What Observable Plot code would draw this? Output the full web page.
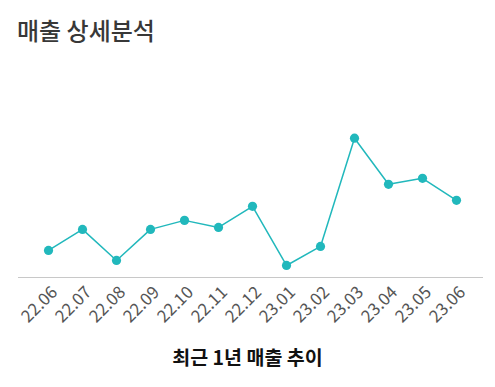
<!DOCTYPE html>
<html><head><meta charset="utf-8">
<script src="https://cdn.jsdelivr.net/npm/d3@7"></script>
<script src="https://cdn.jsdelivr.net/npm/@observablehq/plot@0.6"></script>
<style>
body{margin:0;background:#fff;font-family:"Noto Sans CJK KR","Noto Sans",sans-serif;}
#wrap{width:495px;height:387px;position:relative;}
#title{position:absolute;left:17px;top:13px;font-size:24px;font-weight:500;color:#383838;line-height:34px;}
#chart{position:absolute;left:0;top:60px;}
#caption{position:absolute;left:0;top:342px;width:495px;text-align:center;font-size:19.5px;font-weight:bold;color:#111;line-height:30px;}
</style></head>
<body><div id="wrap"><div id="title">매출 상세분석</div><div id="chart"></div><div id="caption">최근 1년 매출 추이</div></div>
<script>
const months = ["22.06","22.07","22.08","22.09","22.10","22.11","22.12","23.01","23.02","23.03","23.04","23.05","23.06"];
const sales = [27, 48, 17, 48, 57, 50, 71, 12, 31, 139, 93, 99, 77];
const data = months.map((m,i)=>({month:m, value:sales[i]}));
const color = "#21b8bc";
const chart = Plot.plot({
  width:495, height:282,
  marginLeft:18, marginRight:12, marginTop:10, marginBottom:65,
  x:{type:"point", domain:months, range:[47,457], padding:0, label:null},
  y:{domain:[0,139], range:[217,77.7], axis:null},
  style:{fontFamily:"'Noto Sans CJK KR','Noto Sans',sans-serif", background:"#fff"},
  marks:[
    Plot.ruleY([0], {stroke:"#c8c8c8", strokeWidth:1.2}),
    Plot.axisX({tickSize:0, tickRotate:-45, tickPadding:12, fontSize:17, fill:"#555", label:null, dx:6}),
    Plot.line(data, {x:"month", y:"value", stroke:color, strokeWidth:1.5}),
    Plot.dot(data, {x:"month", y:"value", r:4.6, fill:color})
  ]
});
document.getElementById("chart").appendChild(chart);
</script></body></html>
